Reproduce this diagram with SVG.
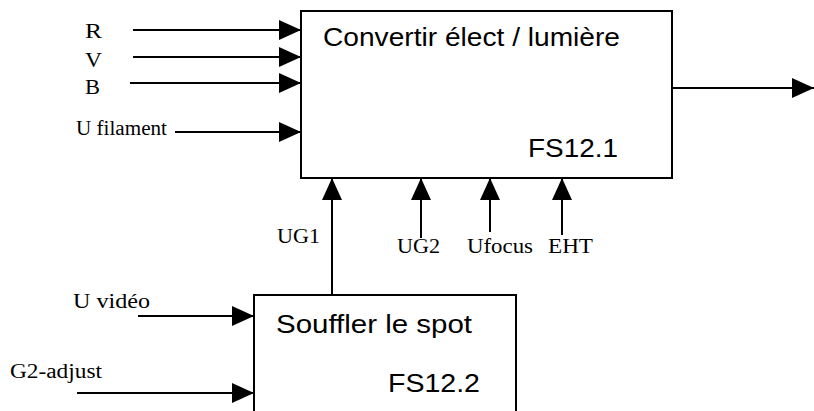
<svg xmlns="http://www.w3.org/2000/svg" width="814" height="411" viewBox="0 0 814 411">
<style>
.box{fill:#fff;stroke:#000;stroke-width:2}
.ln{fill:none;stroke:#000;stroke-width:2;marker-end:url(#ah)}
.sans{font-family:"Liberation Sans",Arial,sans-serif;font-size:25px;fill:#000}
.serif{font-family:"Liberation Serif","Times New Roman",serif;font-size:20px;fill:#000}
</style>
<defs>
<marker id="ah" markerUnits="userSpaceOnUse" markerWidth="22" markerHeight="20" refX="22" refY="10" orient="auto">
<path d="M0,0 L22,10 L0,20 z" fill="#000"/>
</marker>
</defs>
<rect width="814" height="411" fill="#fff"/>
<g id="connectors">
<line class="ln" x1="133" y1="30" x2="301" y2="30"/>
<line class="ln" x1="133" y1="57" x2="301" y2="57"/>
<line class="ln" x1="130" y1="83" x2="301" y2="83"/>
<line class="ln" x1="175" y1="132" x2="301" y2="132"/>
<line class="ln" x1="672" y1="88" x2="814" y2="88"/>
<line class="ln" x1="332" y1="295" x2="332" y2="178"/>
<line class="ln" x1="421" y1="238" x2="421" y2="178"/>
<line class="ln" x1="490" y1="232" x2="490" y2="178"/>
<line class="ln" x1="562" y1="235" x2="562" y2="178"/>
<line class="ln" x1="138" y1="316" x2="254" y2="316"/>
<line class="ln" x1="77" y1="393" x2="254" y2="393"/>
</g>
<g id="labels">
<text class="serif" x="85" y="38" textLength="17" lengthAdjust="spacingAndGlyphs">R</text>
<text class="serif" x="85" y="67" textLength="17" lengthAdjust="spacingAndGlyphs">V</text>
<text class="serif" x="85" y="94" textLength="15" lengthAdjust="spacingAndGlyphs">B</text>
<text class="serif" x="76" y="135" textLength="91" lengthAdjust="spacingAndGlyphs">U filament</text>
<text class="serif" x="277" y="243" textLength="43" lengthAdjust="spacingAndGlyphs">UG1</text>
<text class="serif" x="397" y="253" textLength="43" lengthAdjust="spacingAndGlyphs">UG2</text>
<text class="serif" x="467" y="253" textLength="66" lengthAdjust="spacingAndGlyphs">Ufocus</text>
<text class="serif" x="548" y="253" textLength="45" lengthAdjust="spacingAndGlyphs">EHT</text>
<text class="serif" x="73" y="308" textLength="77" lengthAdjust="spacingAndGlyphs">U vidéo</text>
<text class="serif" x="10" y="378" textLength="92" lengthAdjust="spacingAndGlyphs">G2-adjust</text>
</g>
<g id="fs12_1">
<rect class="box" x="301" y="11" width="371" height="167"/>
<text class="sans" x="323" y="46" textLength="297" lengthAdjust="spacingAndGlyphs">Convertir élect / lumière</text>
<text class="sans" x="528" y="157" textLength="90" lengthAdjust="spacingAndGlyphs">FS12.1</text>
</g>
<g id="fs12_2">
<rect class="box" x="254" y="295" width="262" height="130"/>
<text class="sans" x="276" y="333" textLength="196" lengthAdjust="spacingAndGlyphs">Souffler le spot</text>
<text class="sans" x="388" y="392" textLength="92" lengthAdjust="spacingAndGlyphs">FS12.2</text>
</g>
</svg>
